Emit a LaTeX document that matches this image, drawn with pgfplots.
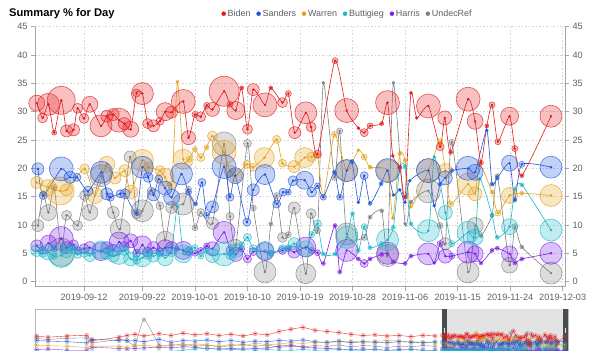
\documentclass[border=0pt]{standalone}
\usepackage{pgfplots}
\pgfplotsset{compat=1.18}
\usepackage{pgfplotstable}
\usepackage{fontspec}
\setmainfont{Liberation Sans}
\definecolor{bidenc}{HTML}{E31A1C}
\definecolor{sandersc}{HTML}{2255DD}
\definecolor{warrenc}{HTML}{E3A21A}
\definecolor{buttc}{HTML}{1CB8C8}
\definecolor{harrisc}{HTML}{7B22E8}
\definecolor{undecc}{HTML}{808080}

\pgfplotstableread{
x y r
-8.1 31.5 8
-7.1 28.9 5
-6.1 31.3 11
-5.1 26.3 2.5
-3.9 32.0 14
-3.0 26.6 6
-1.8 26.8 6
-1.1 30.6 5
0.0 28.8 5
1.0 31.3 8
2.9 27.5 11
3.9 29.2 6
5.0 29.5 6
6.0 28.5 12
6.9 27.9 6
8.0 26.9 8
9.0 33.3 4
10.0 33.2 11
10.9 27.9 5
11.9 27.5 6
13.0 28.3 4
13.9 30.0 9
15.0 29.9 6
17.0 31.8 12
17.9 25.4 7
19.0 29.5 3
20.0 29.1 5
21.0 31.1 3
22.0 30.4 7
24.0 33.6 15
25.0 31.3 3
26.0 30.2 9
27.0 34.2 2
28.0 26.9 5
29.0 33.9 6
31.0 31.2 12
32.0 34.2 2
34.0 31.6 5
35.0 33.2 3
36.1 26.3 6
38.0 29.8 11
38.9 27.3 5
40.0 22.5 4
43.0 39.0 3
45.0 30.2 12
47.0 27.1 1.5
48.0 26.3 4
49.0 27.5 3
51.0 27.9 2
52.0 31.6 12
52.9 22.2 1.5
54.1 20.2 2
55.0 14.9 2
56.0 33.3 1.5
57.0 28.9 1.5
59.0 31.0 12
61.0 23.8 4
61.8 28.9 7
62.8 22.8 2
65.8 32.2 12
67.0 28.3 8
68.0 21.0 2.5
69.0 27.5 2
69.9 31.2 3
70.9 24.7 3
72.9 29.2 9
73.8 23.5 3
75.0 18.7 2
80.0 29.2 11
}\biden

\pgfplotstableread{
x y r
-7.9 19.9 6
-7.0 15.2 4
-3.9 19.9 12
-2.4 18.4 6
-1.2 18.4 4
0.7 16.0 5
3.0 19.3 11
3.9 15.5 6
4.5 14.9 4
6.2 15.5 4
7.0 15.5 5
9.0 12.1 2.5
10.0 20.2 11
11.0 18.4 5
11.9 15.3 6
12.8 18.1 4
13.9 16.5 7
15.0 14.9 8
16.7 19.0 11
17.9 15.8 3
19.1 13.7 2
20.2 17.5 4
21.0 11.7 3
22.0 13.2 6
24.0 20.3 12
25.0 14.9 4
25.9 18.7 8
27.9 10.5 4
29.0 16.2 6
31.0 18.9 10
33.0 13.7 4
34.1 15.8 4
35.0 15.8 3
35.8 17.8 5
37.8 17.9 9
39.0 15.8 5
40.0 16.9 3
41.0 14.9 3
42.9 19.3 2
43.8 14.9 3
45.0 19.6 11
45.9 21.2 2
47.0 14.0 1.5
48.0 18.7 4
49.0 13.8 2
50.9 17.3 2
52.0 19.6 12
53.0 15.3 1.5
54.1 16.2 1.5
55.0 14.0 1.5
55.8 17.8 1.5
59.0 19.6 12
60.0 13.4 1.5
61.0 17.2 2
61.9 18.3 7
63.0 19.6 2
65.8 20.0 12
67.0 19.3 8
69.0 26.7 1.5
69.9 17.2 2
70.8 18.3 2
72.9 20.9 8
73.8 14.4 2
75.0 20.7 3
80.0 20.2 11
}\sanders

\pgfplotstableread{
x y r
-8.1 17.5 6
-6.1 16.6 8
-4.1 16.0 14
-3.0 16.2 6
0.1 19.9 5
1.9 15.2 8
3.9 20.7 8
5.3 18.3 6
7.0 19.6 6
8.0 15.8 7
10.0 21.4 11
11.0 20.2 5
13.0 19.6 5
13.9 18.4 9
15.0 17.0 4
16.0 35.3 1.5
17.0 21.6 10
18.0 21.6 3
19.0 23.4 2.5
20.0 21.9 4
21.0 23.7 2.5
22.0 25.7 5
24.0 22.8 12
25.0 19.5 6
26.0 18.7 6
27.9 20.7 4
29.0 20.2 4
30.9 21.9 10
33.0 25.1 4
34.0 20.9 4
36.0 20.3 6
37.8 21.9 10
39.0 22.0 5
40.0 22.3 3
41.0 15.0 1.5
42.9 26.0 3
45.0 19.6 11
47.0 23.2 1.5
48.0 22.0 3
49.0 20.2 2
52.0 19.6 11
52.9 11.2 1.5
54.1 22.6 2
55.0 21.4 2
56.0 13.2 1.5
59.0 19.6 12
61.0 24.7 3
61.9 19.6 7
62.8 13.7 3
65.8 17.2 11
67.0 15.5 7
67.8 20.7 2
69.9 15.8 2
70.9 12.1 3
72.9 15.2 8
75.0 15.6 2
80.0 15.2 11
}\warren

\pgfplotstableread{
x y r
-8.1 5.5 6
-7.1 5.0 4
-6.1 5.2 8
-5.1 4.5 3
-3.9 4.6 12
-3.0 5.3 6
-1.8 5.8 5
-1.1 4.8 4
0.0 5.2 5
1.0 4.6 6
2.9 5.6 9
3.9 5.0 6
5.0 4.5 6
6.0 4.8 10
6.9 5.5 5
8.0 4.0 7
9.0 3.8 4
10.0 4.2 9
10.9 4.8 5
11.9 4.5 6
13.0 5.0 4
13.9 4.2 8
15.0 5.5 6
16.0 13.2 1.5
17.0 4.9 9
17.9 5.5 4
19.0 6.0 3
20.0 4.5 3
21.0 5.5 3
22.0 4.6 7
24.0 4.9 12
25.0 4.6 4
26.0 5.5 7
27.0 6.5 3
28.0 7.8 4
29.0 5.8 4
31.0 5.5 9
32.0 5.0 3
34.0 5.8 4
35.0 6.0 3
36.0 6.7 6
38.0 5.8 8
39.0 8.3 3
40.0 10.2 4
41.0 4.9 2
43.0 4.9 2
45.0 7.8 11
46.0 12.0 2
47.0 5.5 2
48.0 9.7 3
49.0 6.0 2
51.0 6.7 2
52.0 7.4 11
53.0 9.6 2
54.1 20.0 2
55.0 20.3 2
56.0 10.2 2
59.0 9.0 11
60.0 22.0 1.5
61.9 12.2 7
63.0 6.7 3
65.8 8.7 11
67.0 7.8 8
67.8 18.1 1.5
69.9 11.7 2
70.8 7.8 2
72.9 9.7 8
73.8 16.3 2
75.0 17.1 2
80.0 9.1 11
}\butt

\pgfplotstableread{
x y r
-8.1 6.3 6
-7.1 5.5 4
-6.1 6.8 8
-5.1 5.8 3
-3.9 7.6 12
-3.0 6.0 6
-1.8 6.5 5
-1.1 5.5 4
0.0 5.8 5
1.0 6.0 6
2.9 5.3 9
3.9 6.0 6
5.0 5.5 6
6.0 7.0 10
6.9 6.2 5
8.0 7.2 7
9.0 5.0 4
10.0 6.5 9
10.9 5.2 5
11.9 6.0 6
13.0 5.3 4
13.9 6.0 8
15.0 6.0 6
16.0 5.8 2
17.0 5.5 9
17.9 5.3 4
19.0 5.0 3
20.0 5.5 3
21.0 6.3 3
22.0 5.8 7
24.0 8.7 11
25.0 5.5 4
26.0 4.8 7
27.0 5.8 3
28.0 4.0 4
29.0 5.3 4
31.0 5.3 9
32.0 5.0 3
34.0 5.5 4
35.0 5.8 3
36.0 5.2 6
38.0 6.1 10
39.0 5.5 3
40.0 5.1 3
41.0 3.2 2
43.0 9.9 2
43.8 1.7 2
45.0 5.5 11
47.0 4.0 2
48.0 3.2 4
49.0 4.0 2
51.0 4.8 2
52.0 5.0 11
53.0 3.5 2
55.0 3.2 2
56.0 4.5 2
59.0 4.9 11
60.0 3.3 1.5
61.0 6.7 3
61.9 4.5 7
63.0 4.5 3
65.8 5.2 11
67.0 4.9 8
68.0 3.3 2
69.9 5.5 2
70.8 5.9 2
72.9 4.9 8
73.8 3.3 2
75.0 4.0 2
80.0 5.0 11
}\harris

\pgfplotstableread{
x y r
-7.9 9.9 6
-7.0 15.5 3
-6.1 12.2 8
-5.1 16.6 3
-3.9 5.2 14
-3.0 11.7 5
-1.1 9.9 5
0.1 15.2 5
1.0 12.2 8
2.9 18.7 11
5.0 12.2 6
6.2 9.3 10
7.9 22.0 6
9.0 12.0 5
10.0 12.5 11
11.5 16.0 4
13.0 13.4 4
13.9 7.3 9
15.0 13.1 6
17.0 13.7 11
17.9 16.3 3
19.0 9.5 3
20.0 12.2 4
22.0 10.3 6
24.0 24.3 12
25.0 11.5 4
26.0 6.4 6
28.0 24.4 4
29.0 13.0 3
31.0 1.7 11
32.0 10.2 2
33.0 15.2 3
34.0 7.8 5
35.0 8.3 3
36.0 13.0 6
38.0 1.4 10
38.9 12.0 5
40.0 9.0 3
41.0 35.1 1.5
42.9 18.4 3
43.8 26.6 3
45.0 8.4 11
48.0 7.8 3
49.0 11.4 2
51.0 12.5 2
52.0 4.6 11
53.0 35.1 1.5
55.0 10.2 1.5
56.0 14.0 2
59.0 16.0 12
61.0 9.9 3
61.9 6.7 6
63.0 24.6 3
65.8 1.7 11
67.0 9.9 8
68.0 8.1 2
69.9 11.7 2
70.8 18.7 2
72.9 2.9 8
73.8 9.7 3
75.0 6.1 2
80.0 1.5 11
}\undec

\pgfplotstableread{
x b s w p h u
-300.5 30 22 14 2 6 26
-292.3 28 21 13 2 7 24
-278.6 30 20 12 2 5 26
-264.5 31 18 10 1 5 26
-260.6 22 24 12 3 10 18
-241.1 28 22 12 2 8 24
-235.4 31 22 10 1 7 22
-229.6 33 22 12 1 8 14
-223.1 30 20 14 1 9 59
-212.3 34 24 11 2 10 15
-203.6 31 19 15 3 9 13
-195.0 35 22 13 5 11 16
-186.4 32 21 16 7 10 12
-177.7 34 23 14 8 8 14
-169.1 31 20 12 7 7 11
-160.4 33 22 15 6 8 13
-151.8 30 19 13 6 7 15
-143.1 34 21 17 5 8 12
-134.5 32 20 15 6 9 14
-125.8 38 22 16 5 12 10
-117.2 42 21 18 5 14 12
-108.5 45 23 17 6 10 11
-99.9 40 20 19 5 9 13
-91.3 38 19 18 5 8 12
-82.6 36 21 20 6 7 14
-74.0 33 18 21 5 6 11
-65.3 31 20 19 5 7 13
-56.7 32 19 20 6 6 12
-48.0 30 18 22 5 5 10
-39.4 31 20 21 5 6 12
-30.7 29 19 20 6 6 11
-22.1 31 18 19 5 5 13
-13.4 30 20 18 5 5 12
}\navearly

\pgfplotsset{
  bub/.style={forget plot, only marks, mark=*, scatter,
    point meta=\thisrow{r}, point meta min=0, point meta max=1000,
    scatter/@pre marker code/.code={\scope[mark size=\pgfplotspointmetatransformed bp, draw=#1, fill=#1,
        fill opacity=0.27, draw opacity=0.75, line width=0.6bp]},
    scatter/@post marker code/.code={\endscope}},
  ln/.style={forget plot, smooth, tension=0.35, draw=#1, line width=0.6bp,
    mark=*, mark size=0.9bp, mark options={fill=#1, draw=#1}},
  nl/.style={forget plot, smooth, tension=0.35, draw=#1, line width=0.35bp,
    mark=*, mark size=0.6bp, mark options={fill=#1, draw=#1}},
  nb/.style={forget plot, only marks, mark=*, mark size=2.2bp,
    mark options={fill=#1, fill opacity=0.2, draw=#1, draw opacity=0.45, line width=0.3bp}},
}

\begin{document}
\begin{tikzpicture}
\useasboundingbox (0bp,0bp) rectangle (600bp,-351bp);
\node[anchor=west, inner sep=0pt, font=\fontsize{11.2}{13}\selectfont\bfseries] at (9bp,-13.5bp) {Summary \% for Day};

\begin{axis}[
  at={(35bp,-26.7bp)}, anchor=north west,
  scale only axis, width=530bp, height=260bp,
  xmin=-8.4, xmax=82.4, ymin=-0.9, ymax=45,
  axis x line*=bottom, axis y line*=left,
  axis line style={draw=gray!70, line width=0.6bp},
  tick align=outside, major tick length=4bp,
  tick style={draw=gray!70, line width=0.6bp},
  xtick={0,10,19,28,37,46,55,64,73,82},
  xticklabels={2019-09-12,2019-09-22,2019-10-01,2019-10-10,2019-10-19,2019-10-28,2019-11-06,2019-11-15,2019-11-24,2019-12-03},
  ytick={0,5,...,45},
  grid=major,
  grid style={draw=gray!35, dash pattern=on 1.5bp off 2bp, line width=0.5bp},
  tick label style={font=\fontsize{9.2}{10}\selectfont, text=gray!75!black},
  /pgf/number format/assume math mode=true,
  legend entries={Biden,Sanders,Warren,Buttigieg,Harris,UndecRef},
  legend columns=6,
  legend cell align=left,
  legend style={draw=none, fill=none, at={(axis description cs:0.59,1.05)}, anchor=center,
    font=\fontsize{9}{10}\selectfont, text=gray!75!black, inner sep=0pt,
    /tikz/every even column/.append style={column sep=4bp}},
]
\addlegendimage{only marks, mark=*, mark size=2bp, bidenc}
\addlegendimage{only marks, mark=*, mark size=2bp, sandersc}
\addlegendimage{only marks, mark=*, mark size=2bp, warrenc}
\addlegendimage{only marks, mark=*, mark size=2bp, buttc}
\addlegendimage{only marks, mark=*, mark size=2bp, harrisc}
\addlegendimage{only marks, mark=*, mark size=2bp, undecc}

\addplot[bub=undecc] table {\undec};
\addplot[ln=undecc] table {\undec};
\addplot[bub=harrisc] table {\harris};
\addplot[ln=harrisc] table {\harris};
\addplot[bub=buttc] table {\butt};
\addplot[ln=buttc] table {\butt};
\addplot[bub=warrenc] table {\warren};
\addplot[ln=warrenc] table {\warren};
\addplot[bub=sandersc] table {\sanders};
\addplot[ln=sandersc] table {\sanders};
\addplot[bub=bidenc] table {\biden};
\addplot[ln=bidenc] table {\biden};
\end{axis}

\begin{axis}[
  at={(35bp,-26.7bp)}, anchor=north west,
  scale only axis, width=530bp, height=260bp,
  xmin=-8.4, xmax=82.4, ymin=-0.9, ymax=45,
  axis y line*=right, axis x line=none,
  axis line style={draw=gray!70, line width=0.6bp},
  tick align=outside, major tick length=4bp,
  tick style={draw=gray!70, line width=0.6bp},
  ytick={0,5,...,45},
  tick label style={font=\fontsize{9.2}{10}\selectfont, text=gray!75!black},
  /pgf/number format/assume math mode=true,
]
\addplot[draw=none, forget plot] coordinates {(0,0)};
\end{axis}

\begin{axis}[
  at={(35bp,-309bp)}, anchor=north west,
  scale only axis, width=533bp, height=44bp,
  xmin=-301.7, xmax=82.4, ymin=0, ymax=77.6,
  ticks=none,
  axis line style={draw=gray!55, line width=0.6bp},
]
\fill[gray!22] (axis cs:-8.4,0) rectangle (axis cs:82.4,77.6);
\addplot[nb=undecc] table[x=x,y=u] {\navearly};
\addplot[nb=undecc] table {\undec};
\addplot[nl=undecc] table[x=x,y=u] {\navearly};
\addplot[nl=undecc] table {\undec};
\addplot[nb=harrisc] table[x=x,y=h] {\navearly};
\addplot[nb=harrisc] table {\harris};
\addplot[nl=harrisc] table[x=x,y=h] {\navearly};
\addplot[nl=harrisc] table {\harris};
\addplot[nb=buttc] table[x=x,y=p] {\navearly};
\addplot[nb=buttc] table {\butt};
\addplot[nl=buttc] table[x=x,y=p] {\navearly};
\addplot[nl=buttc] table {\butt};
\addplot[nb=warrenc] table[x=x,y=w] {\navearly};
\addplot[nb=warrenc] table {\warren};
\addplot[nl=warrenc] table[x=x,y=w] {\navearly};
\addplot[nl=warrenc] table {\warren};
\addplot[nb=sandersc] table[x=x,y=s] {\navearly};
\addplot[nb=sandersc] table {\sanders};
\addplot[nl=sandersc] table[x=x,y=s] {\navearly};
\addplot[nl=sandersc] table {\sanders};
\addplot[nb=bidenc] table[x=x,y=b] {\navearly};
\addplot[nb=bidenc] table {\biden};
\addplot[nl=bidenc] table[x=x,y=b] {\navearly};
\addplot[nl=bidenc] table {\biden};
\fill[gray!60!black] (axis cs:-8.4,0) rectangle (axis cs:-5.1,77.6);
\fill[gray!60!black] (axis cs:79.1,0) rectangle (axis cs:82.4,77.6);
\draw[gray!20, line width=0.8bp] (axis cs:-6.75,36) -- (axis cs:-6.75,44);
\draw[gray!20, line width=0.8bp] (axis cs:80.75,36) -- (axis cs:80.75,44);
\end{axis}
\end{tikzpicture}
\end{document}
